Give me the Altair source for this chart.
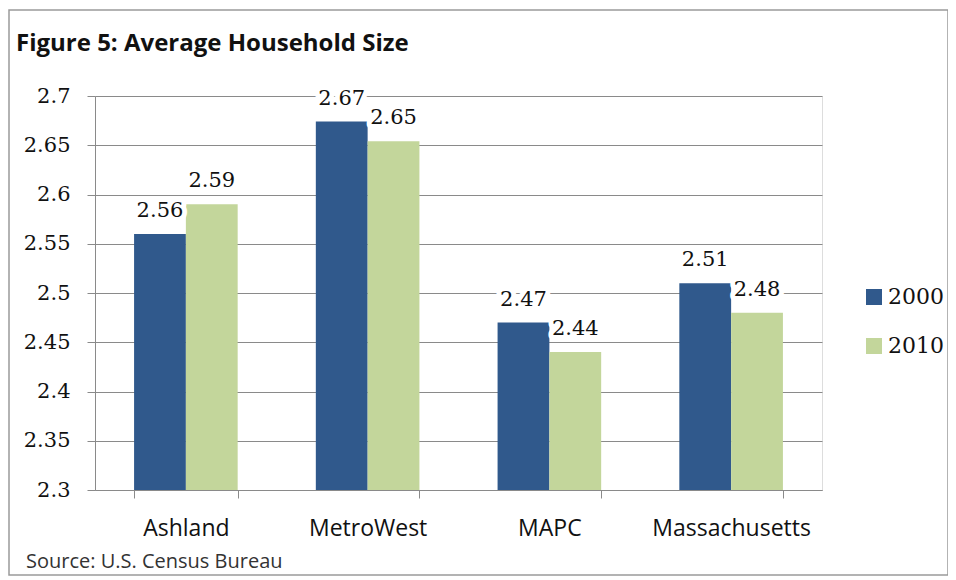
import altair as alt
import pandas as pd

# ---- data ----
regions = ["Ashland", "MetroWest", "MAPC", "Massachusetts"]
years = ["2000", "2010"]
size_2000 = [2.56, 2.674, 2.47, 2.51]
size_2010 = [2.59, 2.654, 2.44, 2.48]
y_ticks = [2.3, 2.35, 2.4, 2.45, 2.5, 2.55, 2.6, 2.65, 2.7]
title_text = "Figure 5: Average Household Size"
source_text = "Source: U.S. Census Bureau"

rows = []
for r, a, b in zip(regions, size_2000, size_2010):
    rows.append({"region": r, "year": years[0], "value": a})
    rows.append({"region": r, "year": years[1], "value": b})
df = pd.DataFrame(rows)

BLUE = "#30598c"
GREEN = "#c3d69b"
GRID = "#8a8a8a"

W, H = 727, 394
PAD_L, PAD_T = 87, 88

x_enc = alt.X(
    "region:N",
    sort=regions,
    title=None,
    scale=alt.Scale(paddingInner=0.43, paddingOuter=0.215),
    axis=alt.Axis(
        labelAngle=0,
        labelFont="Open Sans",
        labelFontSize=23,
        labelColor="#111111",
        labelPadding=19,
        tickBand="extent",
        tickSize=8,
        tickColor=GRID,
        domainColor=GRID,
        grid=False,
    ),
)
xoff = alt.XOffset("year:N", sort=years, scale=alt.Scale(paddingInner=0, paddingOuter=0))
y_enc = alt.Y(
    "value:Q",
    title=None,
    scale=alt.Scale(domain=[2.3, 2.7], zero=False, nice=False),
    axis=alt.Axis(
        values=y_ticks,
        format=".3~f",
        labelFont="DejaVu Serif",
        labelFontSize=21,
        labelColor="#111111",
        labelPadding=17,
        tickSize=8,
        tickColor=GRID,
        domainColor=GRID,
        gridColor=GRID,
        gridOpacity=1,
    ),
)

base = alt.Chart(df)

bars = base.mark_bar(clip=True).encode(
    x=x_enc,
    xOffset=xoff,
    y=y_enc,
    color=alt.Color(
        "year:N",
        sort=years,
        scale=alt.Scale(domain=years, range=[BLUE, GREEN]),
        legend=alt.Legend(
            title=None,
            orient="none",
            legendX=768,
            legendY=190,
            symbolType="square",
            symbolSize=256,
            symbolStrokeWidth=0,
            labelFont="DejaVu Serif",
            labelFontSize=22,
            labelColor="#111111",
            labelOffset=3,
            rowPadding=27,
        ),
    ),
)

halo = base.mark_text(
    baseline="alphabetic", dy=-17, font="DejaVu Serif", fontSize=21,
    stroke="white", strokeWidth=10, strokeJoin="round", fill="white",
).encode(
    x=alt.X("region:N", sort=regions),
    xOffset=xoff,
    y="value:Q",
    text=alt.Text("value:Q", format=".2f"),
)

labels = base.mark_text(
    baseline="alphabetic", dy=-17, font="DejaVu Serif", fontSize=21, color="#111111",
).encode(
    x=alt.X("region:N", sort=regions),
    xOffset=xoff,
    y="value:Q",
    text=alt.Text("value:Q", format=".2f"),
)

title = alt.Chart(pd.DataFrame({"t": [title_text]})).mark_text(
    align="left", baseline="middle", font="Open Sans", fontSize=24,
    fontWeight="bold", color="#111111",
).encode(x=alt.value(-79), y=alt.value(-52), text="t:N")

source = alt.Chart(pd.DataFrame({"t": [source_text]})).mark_text(
    align="left", baseline="middle", font="Open Sans", fontSize=20, color="#333333",
).encode(x=alt.value(-69), y=alt.value(466), text="t:N")

border = alt.Chart(pd.DataFrame({"d": [0]})).mark_rect(
    fill=None, stroke="#9a9a9a", strokeWidth=1.5,
).encode(
    x=alt.value(-86), x2=alt.value(853), y=alt.value(-86), y2=alt.value(479),
)

chart = alt.layer(border, bars, halo, labels, title, source).properties(
    width=W,
    height=H,
    padding={"left": PAD_L, "top": PAD_T, "right": 126, "bottom": 88},
    autosize=alt.AutoSizeParams(type="none"),
).configure_view(stroke=None).configure(background="white")

chart.save("out.html", embed_options={"renderer": "svg", "actions": False})
